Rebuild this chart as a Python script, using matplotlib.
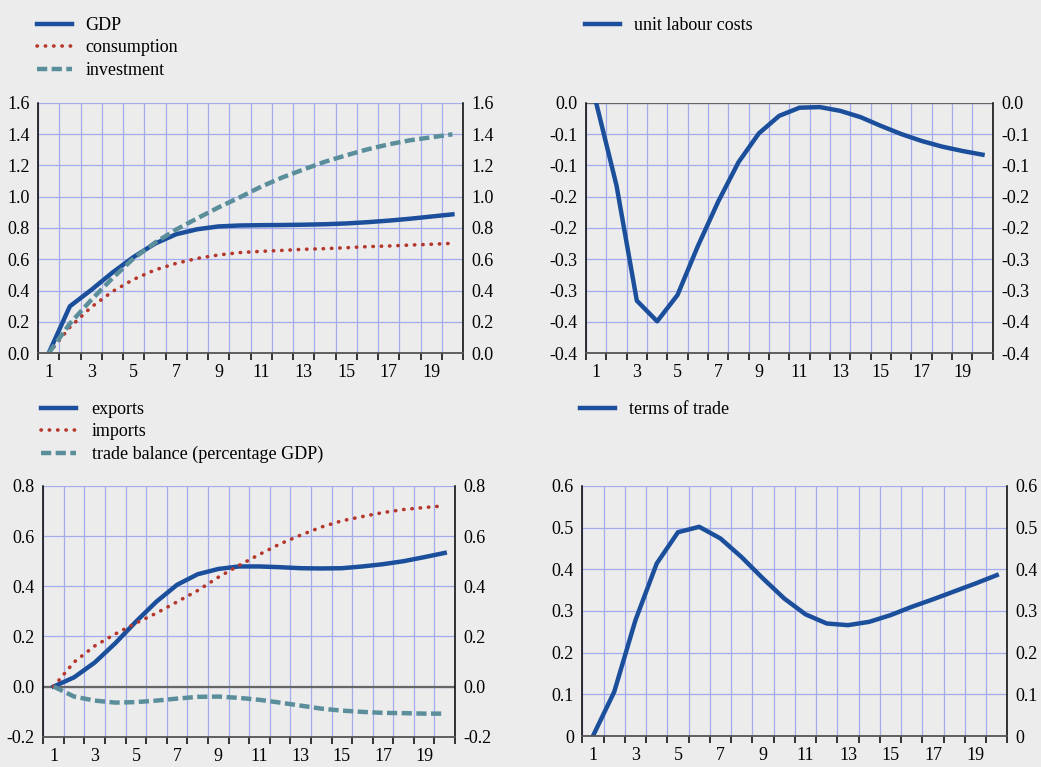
import numpy as np
import matplotlib.pyplot as plt
from matplotlib.ticker import FixedLocator, MultipleLocator

plt.rcParams['font.family'] = ['Liberation Serif', 'DejaVu Serif']
plt.rcParams['font.size'] = 13

# donnees
periodes = list(range(1, 21))
gdp = [0.0, 0.30, 0.404, 0.515, 0.615, 0.70, 0.76, 0.792, 0.81, 0.816, 0.818, 0.819, 0.821, 0.824, 0.829, 0.837, 0.847, 0.859, 0.873, 0.887]
consumption = [0.0, 0.166, 0.294, 0.394, 0.472, 0.532, 0.574, 0.606, 0.628, 0.643, 0.651, 0.657, 0.664, 0.668, 0.674, 0.681, 0.685, 0.691, 0.696, 0.702]
investment = [0.0, 0.19, 0.34, 0.479, 0.606, 0.706, 0.79, 0.862, 0.932, 0.996, 1.064, 1.123, 1.174, 1.223, 1.264, 1.302, 1.334, 1.36, 1.379, 1.398]
ulc = [0.0, -0.132, -0.316, -0.349, -0.307, -0.229, -0.158, -0.095, -0.049, -0.021, -0.008, -0.007, -0.013, -0.023, -0.037, -0.05, -0.061, -0.07, -0.077, -0.083]
exports = [0.0, 0.037, 0.096, 0.173, 0.259, 0.339, 0.406, 0.448, 0.469, 0.479, 0.479, 0.476, 0.472, 0.471, 0.472, 0.479, 0.488, 0.50, 0.516, 0.533]
imports = [0.0, 0.098, 0.162, 0.21, 0.253, 0.293, 0.338, 0.383, 0.436, 0.483, 0.527, 0.569, 0.604, 0.636, 0.661, 0.678, 0.694, 0.706, 0.714, 0.721]
trade_balance = [0.0, -0.04, -0.056, -0.064, -0.062, -0.056, -0.048, -0.041, -0.04, -0.045, -0.053, -0.064, -0.076, -0.088, -0.096, -0.101, -0.105, -0.106, -0.108, -0.108]
tot = [0.0, 0.106, 0.278, 0.414, 0.489, 0.502, 0.474, 0.429, 0.378, 0.33, 0.292, 0.27, 0.266, 0.274, 0.29, 0.31, 0.328, 0.347, 0.366, 0.386]

yticks_1 = [0.0, 0.2, 0.4, 0.6, 0.8, 1.0, 1.2, 1.4, 1.6]
ylabels_1 = ['0.0', '0.2', '0.4', '0.6', '0.8', '1.0', '1.2', '1.4', '1.6']
yticks_2 = [0.0, -0.05, -0.1, -0.15, -0.2, -0.25, -0.3, -0.35, -0.4]
ylabels_2 = ['0.0', '-0.1', '-0.1', '-0.2', '-0.2', '-0.3', '-0.3', '-0.4', '-0.4']
yticks_3 = [-0.2, 0.0, 0.2, 0.4, 0.6, 0.8]
ylabels_3 = ['-0.2', '0.0', '0.2', '0.4', '0.6', '0.8']
yticks_4 = [0.0, 0.1, 0.2, 0.3, 0.4, 0.5, 0.6]
ylabels_4 = ['0', '0.1', '0.2', '0.3', '0.4', '0.5', '0.6']
xlabels = [str(i) for i in range(1, 21, 2)]

bleu = '#1b4f9c'
rouge = '#b5362b'
teal = '#5b8e9b'
grille = '#a3acea'
fond = '#ececec'

fig = plt.figure(figsize=(10.41, 7.67), dpi=100, facecolor=fond)


def prepare(pos, yticks, ylabels, zero_line):
    ax = fig.add_axes(pos)
    ax.set_facecolor(fond)
    ax.set_xlim(0.5, 20.5)
    ax.set_ylim(min(yticks), max(yticks))
    ax.set_yticks(yticks)
    ax.set_yticklabels(ylabels)
    ax.xaxis.set_major_locator(FixedLocator(range(1, 21, 2)))
    ax.set_xticklabels(xlabels)
    ax.xaxis.set_minor_locator(MultipleLocator(1, offset=0.5))
    ax.grid(True, which='minor', axis='x', color=grille, lw=0.9)
    ax.grid(True, which='major', axis='y', color=grille, lw=0.9)
    ax.set_axisbelow(True)
    ax.tick_params(axis='x', which='major', length=0, pad=8)
    ax.tick_params(axis='x', which='minor', length=5, width=1.1, direction='out', color='black')
    ax.tick_params(axis='y', length=0, labelright=True, pad=6)
    ax.spines['top'].set_visible(False)
    ax.spines['bottom'].set_color('#555555')
    ax.spines['bottom'].set_linewidth(1.3)
    ax.spines['left'].set_linewidth(1.1)
    ax.spines['right'].set_linewidth(1.1)
    if zero_line:
        ax.axhline(0, color='#666666', lw=1.6, zorder=1.5)
    return ax


leg_opts = dict(bbox_transform=fig.transFigure, frameon=False, handlelength=1.95,
                labelspacing=0.3, borderpad=0, borderaxespad=0, loc='upper left')
dots = (0, (0.1, 2.2))
dashes = (0, (2.3, 1.0))

# GDP, consommation, investissement
ax1 = prepare([0.0365, 0.5394, 0.4083, 0.3267], yticks_1, ylabels_1, False)
l1, = ax1.plot(periodes, gdp, color=bleu, lw=3.2, label='GDP')
l2, = ax1.plot(periodes, consumption, color=rouge, lw=2.6, linestyle=dots,
               dash_capstyle='round', label='consumption')
l3, = ax1.plot(periodes, investment, color=teal, lw=3.2, linestyle=dashes, label='investment')
ax1.legend(handles=[l1, l2, l3], bbox_to_anchor=(37 / 1041, 1 - 17 / 767), handletextpad=0.75, **leg_opts)

# couts unitaires du travail
ax2 = prepare([0.5629, 0.5394, 0.3907, 0.3267], yticks_2, ylabels_2, True)
l4, = ax2.plot(periodes, ulc, color=bleu, lw=3.2, label='unit labour costs')
ax2.legend(handles=[l4], bbox_to_anchor=(585 / 1041, 1 - 17 / 767), handletextpad=0.75, **leg_opts)

# commerce exterieur
ax3 = prepare([0.0416, 0.0395, 0.3955, 0.3269], yticks_3, ylabels_3, True)
l5, = ax3.plot(periodes, exports, color=bleu, lw=3.2, label='exports')
l6, = ax3.plot(periodes, imports, color=rouge, lw=2.6, linestyle=dots,
               dash_capstyle='round', label='imports')
l7, = ax3.plot(periodes, trade_balance, color=teal, lw=3.2, linestyle=dashes,
               label='trade balance (percentage GDP)')
ax3.legend(handles=[l5, l6, l7], bbox_to_anchor=(41 / 1041, 1 - 401 / 767), handletextpad=0.85, **leg_opts)

# termes de l'echange
ax4 = prepare([0.5594, 0.0404, 0.4083, 0.3260], yticks_4, ylabels_4, False)
l8, = ax4.plot(periodes, tot, color=bleu, lw=3.2, label='terms of trade')
ax4.legend(handles=[l8], bbox_to_anchor=(580 / 1041, 1 - 401 / 767), handletextpad=0.75, **leg_opts)

plt.savefig('out.png', dpi=100, facecolor=fond)
plt.close()
